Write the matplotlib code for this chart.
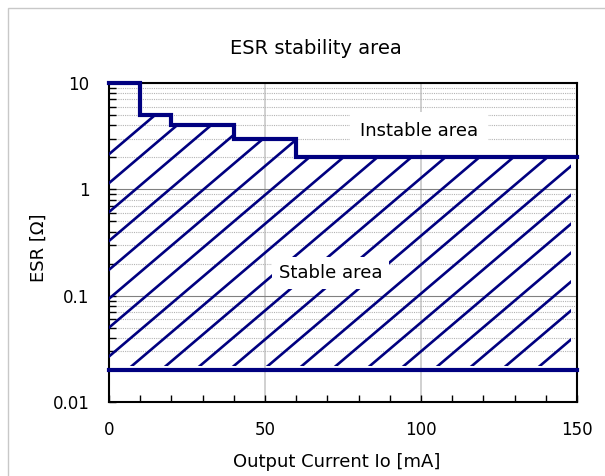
import numpy as np
import matplotlib.pyplot as plt
from matplotlib.collections import LineCollection
from matplotlib.patches import Polygon, Rectangle
from matplotlib.ticker import LogLocator, NullFormatter

# upper ESR limit as a post-step: each value holds from its current to the next one
io_steps = [0, 10, 20, 40, 60, 150]
esr_upper = [10, 5, 4, 3, 2, 2]
esr_lower = 0.02

x_ticks = [0, 50, 100, 150]
y_ticks = [0.01, 0.1, 1, 10]
y_tick_labels = ["0.01", "0.1", "1", "10"]

navy = "#000080"

fig = plt.figure(figsize=(6.05, 4.76), dpi=100)
ax = fig.add_axes([109 / 605, 74 / 476, 468 / 605, 319 / 476])

ax.set_xlim(0, 150)
ax.set_yscale("log")
ax.set_ylim(0.01, 10)

ax.set_xticks(x_ticks)
ax.set_xticks(range(0, 151, 10), minor=True)
ax.set_yticks(y_ticks, y_tick_labels)
ax.yaxis.set_minor_locator(LogLocator(subs=np.arange(2, 10)))
ax.yaxis.set_minor_formatter(NullFormatter())
ax.tick_params(which="both", direction="in", length=5, width=1, pad=14,
               labelsize=12, top=False, right=False)

ax.grid(axis="x", which="major", color="#c8c8c8", lw=1.2)
ax.grid(axis="y", which="major", color="#808080", lw=0.8)
ax.grid(axis="y", which="minor", color="#b4b4b4", lw=0.8, ls=(0, (1, 1)))
ax.set_axisbelow(True)
for sp in ax.spines.values():
    sp.set_linewidth(1.5)

# boundaries of the stable region
ax.step(io_steps, esr_upper, where="post", color=navy, lw=3,
        solid_joinstyle="miter", solid_capstyle="projecting",
        clip_on=False, zorder=4)
ax.plot([io_steps[0], io_steps[-1]], [esr_lower, esr_lower], color=navy,
        lw=3, solid_capstyle="projecting", clip_on=False, zorder=4)

# hatching clipped to the region between the two limits
hatch_xmax = 148
hatch_ymin = esr_lower * 1.09
verts = [(io_steps[0], hatch_ymin)]
for i in range(len(io_steps) - 1):
    verts.append((io_steps[i], esr_upper[i]))
    verts.append((min(io_steps[i + 1], hatch_xmax), esr_upper[i]))
verts.append((hatch_xmax, hatch_ymin))
clip = Polygon(verts, closed=True, transform=ax.transData)

w_px, h_px = 468, 319
slope = 0.85 * w_px / h_px
step = 34 / w_px
x0, y0 = 24 / w_px, 37 / h_px
# topmost hatch line meets the left axis at about 2 ohm
y_left_max = (np.log10(2.2) + 2) / 3
segs = []
for k in range(-30, 30):
    xa = x0 + k * step
    if y0 - slope * xa > y_left_max:
        continue
    segs.append([(xa - 2, y0 - 2 * slope), (xa + 2, y0 + 2 * slope)])
hatch = LineCollection(segs, transform=ax.transAxes, colors=navy, lw=1.9,
                       zorder=3)
ax.add_collection(hatch)
hatch.set_clip_path(clip)

ax.text(99.4, 3.53, "Instable area", ha="center", va="center", fontsize=13,
        bbox=dict(boxstyle="square,pad=0.55", fc="white", ec="none"), zorder=5)
ax.text(71.0, 0.164, "Stable area", ha="center", va="center", fontsize=13,
        bbox=dict(boxstyle="square,pad=0.4", fc="white", ec="none"), zorder=5)

fig.text(316 / 605, 1 - 49 / 476, "ESR stability area", ha="center",
         va="center", fontsize=14)
fig.text(337 / 605, 1 - 462 / 476, "Output Current Io [mA]", ha="center",
         va="center", fontsize=13)
fig.text(38.6 / 605, 1 - 248 / 476, "ESR [Ω]", ha="center", va="center",
         rotation=90, fontsize=13)

fig.patches.append(Rectangle((8 / 605, -0.05), 1.1, 468 / 476 + 0.05,
                             transform=fig.transFigure, fill=False,
                             ec="#c8c8c8", lw=1))

fig.savefig("out.png", dpi=100)
